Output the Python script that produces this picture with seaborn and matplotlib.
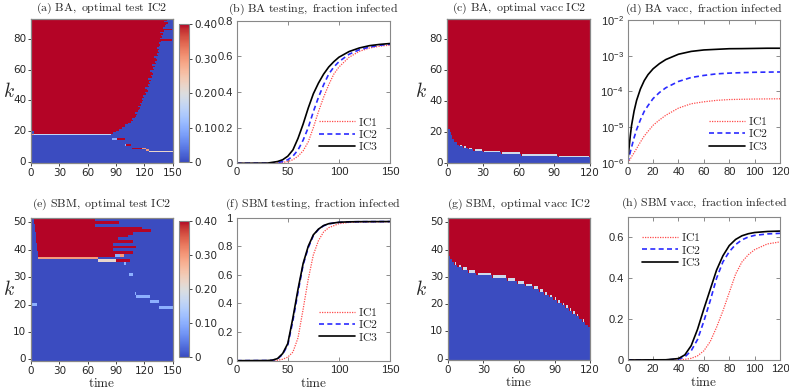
import numpy as np
import pandas as pd
import matplotlib
matplotlib.use("Agg")
import matplotlib.pyplot as plt
import seaborn as sns

# heatmap data: k rows, one column per time unit
# (a) BA, optimal test IC2 -- red block for k >= 19 up to these end times
a_n_k = 93
a_n_t = 150
a_red_k0 = 19
a_red_end = [87, 90, 93, 96, 100, 100, 103, 106, 108, 107, 110, 111, 112, 110, 113,
             114, 115, 113, 116, 115, 118, 119, 117, 120, 119, 122, 121, 124, 123, 121,
             125, 124, 126, 125, 127, 124, 128, 127, 129, 128, 126, 130, 129, 131, 128,
             132, 131, 133, 132, 130, 134, 133, 135, 134, 136, 133, 135, 137, 136, 138,
             149, 137, 139, 138, 140, 137, 141, 149, 140, 142, 143, 145, 141, 144]
# extra cells: (k, t_from, t_to, value)
a_marks = [(19, 0, 3, 0.0), (20, 0, 3, 0.0), (18, 0, 3, 0.3), (18, 3, 85, 0.16),
           (15, 86, 91, 0.1), (15, 91, 100, 0.4), (11, 99, 101, 0.1), (11, 101, 106, 0.4),
           (9, 107, 118, 0.4), (9, 118, 122, 0.3), (8, 122, 125, 0.3), (7, 125, 150, 0.22)]

# (c) BA, optimal vacc IC2 -- blue below boundary k, runs end at these times
c_n_k = 93
c_run_end = [1, 2, 3, 4, 6, 8, 10, 13, 17, 22, 30, 45, 62, 93, 120]
c_run_k = [25, 22, 20, 18, 16, 14, 12, 11, 10, 9, 8, 7, 6, 5, 4]

# (e) SBM, optimal test IC2
e_n_k = 52
e_n_t = 150
e_red_k = [51, 50, 49, 48, 47, 46, 45, 44, 43, 42, 41, 40, 39, 38]
e_red_start = [3, 3, 4, 4, 4, 5, 5, 5, 5, 6, 6, 6, 7, 7]
e_red_end = [68, 93, 68, 118, 127, 108, 103, 92, 108, 87, 111, 87, 108, 89]
e_marks = [(37, 7, 71, 0.3), (36, 71, 90, 0.22), (36, 90, 105, 0.4), (38, 89, 94, 0.1),
           (38, 94, 98, 0.3), (35, 98, 101, 0.1), (31, 104, 108, 0.1), (24, 110, 111, 0.1),
           (23, 111, 126, 0.1), (21, 126, 135, 0.1), (19, 136, 150, 0.1), (20, 0, 6, 0.1)]

# (g) SBM, optimal vacc IC2
g_n_k = 52
g_run_end = [1, 2, 3, 5, 8, 12, 17, 24, 37, 50, 58, 65, 72, 77, 81, 85, 89, 92, 96,
             99, 102, 105, 108, 111, 113, 116, 118, 120]
g_run_k = [39, 38, 37, 36, 35, 34, 33, 32, 31, 30, 29, 28, 27, 26, 25, 24, 23, 22, 21,
           20, 19, 18, 17, 16, 15, 14, 13, 12]

# fraction infected curves
b_time = [0, 30, 40, 45, 50, 55, 60, 65, 70, 75, 80, 85, 90, 95, 100, 110, 120, 130, 140, 150]
b_ic1 = [0, 0, 0.002, 0.005, 0.01, 0.02, 0.04, 0.07, 0.12, 0.2, 0.29, 0.37, 0.44, 0.5,
         0.54, 0.595, 0.628, 0.647, 0.657, 0.663]
b_ic2 = [0, 0.0005, 0.004, 0.01, 0.02, 0.04, 0.075, 0.13, 0.2, 0.29, 0.37, 0.44, 0.5,
         0.54, 0.57, 0.612, 0.637, 0.652, 0.662, 0.668]
b_ic3 = [0, 0.001, 0.01, 0.02, 0.04, 0.075, 0.14, 0.22, 0.31, 0.39, 0.45, 0.5, 0.54,
         0.57, 0.595, 0.627, 0.647, 0.66, 0.667, 0.672]

d_time = [0, 1, 2, 3, 5, 7, 10, 13, 16, 20, 25, 30, 40, 50, 60, 70, 80, 90, 100, 110, 120]
d_ic1 = [1.0e-6, 1.12e-6, 1.26e-6, 1.48e-6, 1.9e-6, 2.5e-6, 3.8e-6, 5.6e-6, 7.6e-6,
         1.12e-5, 1.58e-5, 2.14e-5, 3.4e-5, 4.5e-5, 5.1e-5, 5.6e-5, 5.9e-5, 6.0e-5,
         6.1e-5, 6.15e-5, 6.2e-5]
d_ic2 = [1.0e-6, 1.4e-6, 2.0e-6, 2.7e-6, 5.0e-6, 8.5e-6, 1.6e-5, 2.75e-5, 4.0e-5,
         6.3e-5, 9.3e-5, 1.26e-4, 1.9e-4, 2.45e-4, 2.8e-4, 3.1e-4, 3.25e-4, 3.35e-4,
         3.43e-4, 3.47e-4, 3.5e-4]
d_ic3 = [1.0e-6, 2.5e-6, 5.6e-6, 1.1e-5, 2.8e-5, 5.6e-5, 1.17e-4, 2.0e-4, 2.95e-4,
         4.3e-4, 6.0e-4, 7.8e-4, 1.1e-3, 1.32e-3, 1.45e-3, 1.51e-3, 1.57e-3, 1.58e-3,
         1.6e-3, 1.62e-3, 1.62e-3]

f_time = [0, 30, 35, 40, 45, 50, 55, 60, 65, 70, 75, 80, 85, 90, 100, 110, 120, 150]
f_ic1 = [0, 0, 0.001, 0.003, 0.01, 0.025, 0.06, 0.16, 0.36, 0.57, 0.74, 0.84, 0.9,
         0.93, 0.958, 0.967, 0.97, 0.972]
f_ic2 = [0, 0.001, 0.003, 0.012, 0.045, 0.11, 0.28, 0.48, 0.67, 0.79, 0.875, 0.918,
         0.943, 0.957, 0.967, 0.971, 0.972, 0.973]
f_ic3 = [0, 0.001, 0.004, 0.015, 0.05, 0.12, 0.3, 0.5, 0.68, 0.8, 0.88, 0.92, 0.945,
         0.958, 0.968, 0.971, 0.972, 0.973]

h_time = [0, 30, 40, 45, 50, 55, 60, 65, 70, 75, 80, 85, 90, 95, 100, 110, 120]
h_ic1 = [0, 0, 0.001, 0.003, 0.008, 0.02, 0.045, 0.09, 0.16, 0.24, 0.33, 0.42, 0.48,
         0.515, 0.54, 0.568, 0.578]
h_ic2 = [0, 0.0005, 0.004, 0.015, 0.045, 0.1, 0.19, 0.29, 0.4, 0.48, 0.53, 0.565,
         0.588, 0.602, 0.61, 0.617, 0.62]
h_ic3 = [0, 0.001, 0.007, 0.025, 0.07, 0.15, 0.25, 0.345, 0.44, 0.51, 0.56, 0.59,
         0.608, 0.618, 0.624, 0.629, 0.631]

ic_labels = ["IC1", "IC2", "IC3"]
ic_colors = ["#ff4a4a", "#2b2bff", "black"]
ic_styles = [(0, (1, 1)), (0, (3, 2)), "-"]
ic_widths = [0.9, 1.2, 1.2]

sns.set_style("ticks")
plt.rcParams["font.family"] = ["DejaVu Sans"]


def cm_text(s):
    # Computer Modern roman via mathtext
    return r"$\mathrm{" + s.replace(" ", r"\ ") + "}$"


def test_grid(n_k, n_t, red_rows, red_start, red_end, marks):
    grid = np.zeros((n_k, n_t))
    for k, t0, t1 in zip(red_rows, red_start, red_end):
        grid[k, t0:t1] = 0.4
    for k, t0, t1, v in marks:
        grid[k, t0:t1] = v
    return grid


def vacc_grid(n_k, run_end, run_k):
    grid = np.full((n_k, run_end[-1]), 0.4)
    t0 = 0
    for t1, kb in zip(run_end, run_k):
        grid[:kb, t0:t1] = 0.0
        if t1 - t0 >= 3:
            grid[kb, t0 + 1:t1 - 1] = 0.18
        t0 = t1
    return grid


def time_label(ax):
    ax.set_xlabel(cm_text("time"), math_fontfamily="cm", fontsize=9.5)
    ax.xaxis.set_label_coords(0.5, -0.115)


def draw_heat(ax, grid, xticks, yticks, klabel_x, cax=None, xlabel=False):
    sns.heatmap(grid, ax=ax, cmap="coolwarm", vmin=0, vmax=0.4,
                cbar=cax is not None, cbar_ax=cax, rasterized=True)
    ax.set_xlim(0, grid.shape[1])
    ax.set_ylim(0, grid.shape[0])
    ax.set_xticks(xticks)
    ax.set_xticklabels([str(t) for t in xticks], rotation=0)
    ax.set_yticks([k + 0.5 for k in yticks])
    ax.set_yticklabels([str(k) for k in yticks], rotation=0)
    ax.tick_params(labelsize=7.5, length=2.5, width=0.6, pad=1)
    for sp in ax.spines.values():
        sp.set_visible(True)
        sp.set_color("#888888")
        sp.set_linewidth(0.9)
    ax.set_ylabel(r"$k$", math_fontfamily="cm", fontsize=14, rotation=0,
                  va="center", ha="center")
    ax.yaxis.set_label_coords(klabel_x, 0.5)
    if xlabel:
        time_label(ax)
    else:
        ax.set_xlabel("")
    if cax is not None:
        cb = ax.collections[0].colorbar
        cb.set_ticks([0, 0.1, 0.2, 0.3, 0.4])
        cb.set_ticklabels(["0", "0.10", "0.20", "0.30", "0.40"])
        cb.outline.set_linewidth(0.8)
        cb.outline.set_edgecolor("#888888")
        cax.tick_params(labelsize=7.5, length=2.5, width=0.6, pad=1)


def draw_lines(ax, t, curves, xlim, xticks, legend_loc, legend_anchor, xlabel=False):
    for vals, lab, col, ls, lw in zip(curves, ic_labels, ic_colors, ic_styles, ic_widths):
        df = pd.DataFrame({"time": t, "frac": vals})
        sns.lineplot(data=df, x="time", y="frac", ax=ax, color=col, linestyle=ls,
                     linewidth=lw, label=cm_text(lab))
    ax.set_xlim(*xlim)
    ax.set_xticks(xticks)
    ax.set_ylabel("")
    if xlabel:
        time_label(ax)
    else:
        ax.set_xlabel("")
    ax.tick_params(direction="in", top=True, right=True, length=3, width=0.6,
                   color="#777777", labelsize=8, labelfontfamily="Liberation Sans", pad=3)
    ax.tick_params(which="minor", direction="in", top=True, right=True, length=1.8,
                   width=0.5, color="#777777")
    for sp in ax.spines.values():
        sp.set_color("#888888")
        sp.set_linewidth(0.8)
    leg = ax.legend(loc=legend_loc, bbox_to_anchor=legend_anchor, frameon=False,
                    fontsize=8.5, handlelength=3.0, handletextpad=0.3,
                    labelspacing=-0.05, borderaxespad=0.2)
    for txt in leg.get_texts():
        txt.set_math_fontfamily("cm")


def fmt_plain(vals):
    return ["0" if v == 0 else ("1" if v == 1 else f"{v:g}") for v in vals]


fig = plt.figure(figsize=(7.89, 3.89), dpi=100)

# positions in figure fractions
ax_a = fig.add_axes([0.0393, 0.581, 0.1796, 0.3694])
cax_a = fig.add_axes([0.2269, 0.5835, 0.0127, 0.3548])
ax_b = fig.add_axes([0.300, 0.5802, 0.1943, 0.3666])
ax_c = fig.add_axes([0.5669, 0.5802, 0.1809, 0.3702])
ax_d = fig.add_axes([0.7956, 0.5817, 0.1930, 0.3668])
ax_e = fig.add_axes([0.0393, 0.0728, 0.1796, 0.366])
cax_e = fig.add_axes([0.2269, 0.0823, 0.0127, 0.3496])
ax_f = fig.add_axes([0.300, 0.0728, 0.1943, 0.3676])
ax_g = fig.add_axes([0.5678, 0.0746, 0.180, 0.3643])
ax_h = fig.add_axes([0.7956, 0.0746, 0.1930, 0.3676])

# heatmaps
grid_a = test_grid(a_n_k, a_n_t, list(range(a_red_k0, a_n_k)), [0] * len(a_red_end),
                   a_red_end, a_marks)
draw_heat(ax_a, grid_a, [0, 30, 60, 90, 120, 150], [0, 20, 40, 60, 80], -0.155, cax=cax_a)

grid_c = vacc_grid(c_n_k, c_run_end, c_run_k)
draw_heat(ax_c, grid_c, [0, 30, 60, 90, 120], [0, 20, 40, 60, 80], -0.185)

grid_e = test_grid(e_n_k, e_n_t, e_red_k, e_red_start, e_red_end, e_marks)
draw_heat(ax_e, grid_e, [0, 30, 60, 90, 120, 150], [0, 10, 20, 30, 40, 50], -0.155,
          cax=cax_e, xlabel=True)

grid_g = vacc_grid(g_n_k, g_run_end, g_run_k)
draw_heat(ax_g, grid_g, [0, 30, 60, 90, 120], [0, 10, 20, 30, 40, 50], -0.19, xlabel=True)

# line plots
draw_lines(ax_b, b_time, [b_ic1, b_ic2, b_ic3], (0, 150), [0, 50, 100, 150],
           "lower right", (0.97, 0.02))
ax_b.set_ylim(0, 0.8)
ax_b.set_yticks([0, 0.2, 0.4, 0.6, 0.8])
ax_b.set_yticklabels(fmt_plain([0, 0.2, 0.4, 0.6, 0.8]))

draw_lines(ax_d, d_time, [d_ic1, d_ic2, d_ic3], (0, 120), [0, 20, 40, 60, 80, 100, 120],
           "lower right", (0.97, 0.02))
ax_d.set_yscale("log")
ax_d.set_ylim(1e-6, 1e-2)
ax_d.set_yticks([1e-6, 1e-5, 1e-4, 1e-3, 1e-2])
ax_d.yaxis.set_minor_locator(matplotlib.ticker.NullLocator())

draw_lines(ax_f, f_time, [f_ic1, f_ic2, f_ic3], (0, 150), [0, 50, 100, 150],
           "lower right", (0.97, 0.07), xlabel=True)
ax_f.set_ylim(0, 1)
ax_f.set_yticks([0, 0.2, 0.4, 0.6, 0.8, 1])
ax_f.set_yticklabels(fmt_plain([0, 0.2, 0.4, 0.6, 0.8, 1]))

draw_lines(ax_h, h_time, [h_ic1, h_ic2, h_ic3], (0, 120), [0, 20, 40, 60, 80, 100, 120],
           "upper left", (0.05, 0.95), xlabel=True)
ax_h.set_ylim(0, 0.7)
ax_h.set_yticks([0, 0.2, 0.4, 0.6])
ax_h.set_yticklabels(fmt_plain([0, 0.2, 0.4, 0.6]))

titles = [
    (ax_a, "(a) BA, optimal test IC2"),
    (ax_b, "(b) BA testing, fraction infected"),
    (ax_c, "(c) BA, optimal vacc IC2"),
    (ax_d, "(d) BA vacc, fraction infected"),
    (ax_e, "(e) SBM, optimal test IC2"),
    (ax_f, "(f) SBM testing, fraction infected"),
    (ax_g, "(g) SBM, optimal vacc IC2"),
    (ax_h, "(h) SBM vacc, fraction infected"),
]
for ax, title in titles:
    pos = ax.get_position()
    gap = 0.009 if pos.y0 > 0.5 else 0.015
    fig.text((pos.x0 + pos.x1) / 2, pos.y1 + gap, cm_text(title), math_fontfamily="cm",
             fontsize=8.6, ha="center", va="bottom")

fig.savefig("out.png", dpi=100)
